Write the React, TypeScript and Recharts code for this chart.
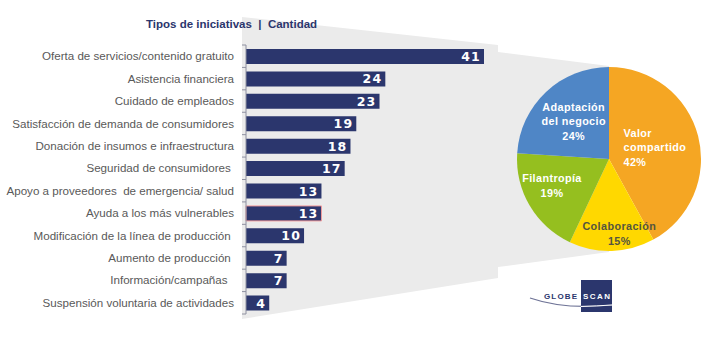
import React from "react";
import { BarChart, Bar, XAxis, YAxis, LabelList, Cell, PieChart, Pie } from "recharts";

// Tipos de iniciativas (bar chart)
const categories = [
  "Oferta de servicios/contenido gratuito",
  "Asistencia financiera",
  "Cuidado de empleados",
  "Satisfacción de demanda de consumidores",
  "Donación de insumos e infraestructura",
  "Seguridad de consumidores ",
  "Apoyo a proveedores  de emergencia/ salud",
  "Ayuda a los más vulnerables",
  "Modificación de la línea de producción ",
  "Aumento de producción ",
  "Información/campañas  ",
  "Suspensión voluntaria de actividades",
];
const counts = [41, 24, 23, 19, 18, 17, 13, 13, 10, 7, 7, 4];
const highlighted = "Ayuda a los más vulnerables";

// Pie: share by type (clockwise from 12 o'clock)
const pieNames = ["Valor\ncompartido", "Colaboración", "Filantropía", "Adaptación\ndel negocio"];
const pieShares = [42, 15, 19, 24];

const barData = categories.map((name, i) => ({ name, count: counts[i] }));
const pieData = pieNames.map((name, i) => ({ name, value: pieShares[i] }));

const W = 706;
const H = 351;
const AXIS_X = 246;
const PLOT_TOP = 45;
const PLOT_BOTTOM = 314;
const PLOT_RIGHT = 484;
const BAND = (PLOT_BOTTOM - PLOT_TOP) / categories.length;

const NAVY = "#2b366d";
const LABEL_GREY = "#595959";
const AXIS_GREY = "#8e90a0";
const pieColors = ["#f5a623", "#ffd800", "#95bf1f", "#4f86c6"];
const pieText = ["#ffffff", "#55553f", "#ffffff", "#ffffff"];
// label placement tweaks per slice
const pieLabelR = [0.5, 0.8, 0.72, 0.56];
const pieLabelAnchor = ["start", "middle", "middle", "middle"];
const pieLabelDx = [-30, 8, 0, 0];
const pieLabelDy = [0, 1, -7, 0];

// PieChart keeps a 5px default margin, so centre is given inside it
const PIE_CX = 604;
const PIE_CY = 154;
const PIE_R = 92;

function CategoryTick(props: any) {
  const { y, payload, index } = props;
  const last = index === categories.length - 1;
  return (
    <g>
      <line x1={AXIS_X - 4} x2={AXIS_X} y1={y - BAND / 2} y2={y - BAND / 2} stroke={AXIS_GREY} />
      {last && <line x1={AXIS_X - 4} x2={AXIS_X} y1={y + BAND / 2} y2={y + BAND / 2} stroke={AXIS_GREY} />}
      <text
        x={AXIS_X - 12}
        y={y}
        dy="0.35em"
        textAnchor="end"
        fill={LABEL_GREY}
        fontSize={11.6}
        fontFamily="'Liberation Sans', Arial, sans-serif"
        style={{ whiteSpace: "pre" }}
      >
        {payload.value}
      </text>
    </g>
  );
}

function ValueLabel(props: any) {
  const { x, y, width, height, value } = props;
  return (
    <text
      x={x + width - 3}
      y={y + height / 2}
      dy="0.36em"
      textAnchor="end"
      fill="#ffffff"
      fontSize={12.5}
      fontWeight="bold"
      letterSpacing={1.2}
      fontFamily="'DejaVu Sans', Verdana, sans-serif"
    >
      {value}
    </text>
  );
}

function PieLabel(props: any) {
  const { cx, cy, midAngle, outerRadius, index, value, name } = props;
  const RAD = Math.PI / 180;
  const r = outerRadius * pieLabelR[index];
  const x = cx + r * Math.cos(-midAngle * RAD) + pieLabelDx[index];
  const lines = [...String(name).split("\n"), `${value}%`];
  const lh = 14.5;
  const y0 = cy - r * Math.sin(midAngle * RAD) - ((lines.length - 1) * lh) / 2 + pieLabelDy[index];
  return (
    <text
      x={x}
      y={y0}
      textAnchor={pieLabelAnchor[index]}
      fill={pieText[index]}
      fontSize={10.8}
      fontWeight="bold"
      letterSpacing={0.4}
      fontFamily="'Liberation Sans', Arial, sans-serif"
    >
      {lines.map((l, i) => (
        <tspan key={i} x={x} dy={i === 0 ? "0.35em" : lh}>
          {l}
        </tspan>
      ))}
    </text>
  );
}

export default function App() {
  return (
    <div style={{ position: "absolute", left: 0, top: 0, width: W, height: H, background: "#fff", overflow: "hidden" }}>
      <svg width={W} height={H} style={{ position: "absolute", left: 0, top: 0 }}>
        <polygon
          points="242,17 498,45 498,52 609,66 609,252 498,267 498,278 242,319"
          fill="#ebebeb"
        />
      </svg>

      <div
        style={{
          position: "absolute",
          left: 146,
          top: 18,
          fontFamily: "'Liberation Sans', Arial, sans-serif",
          fontWeight: "bold",
          fontSize: 11.5,
          color: NAVY,
          whiteSpace: "pre",
        }}
      >
        Tipos de iniciativas  |  Cantidad
      </div>

      <div style={{ position: "absolute", left: 0, top: 0 }}>
        <BarChart
          width={W}
          height={H}
          data={barData}
          layout="vertical"
          margin={{ top: PLOT_TOP, bottom: H - PLOT_BOTTOM, left: 0, right: W - PLOT_RIGHT }}
        >
          <XAxis type="number" domain={[0, 41]} hide />
          <YAxis
            type="category"
            dataKey="name"
            width={AXIS_X}
            axisLine={{ stroke: AXIS_GREY }}
            tickLine={false}
            tick={<CategoryTick />}
            interval={0}
          />
          <Bar dataKey="count" barSize={15} fill={NAVY} isAnimationActive={false}>
            {barData.map((d) => (
              <Cell
                key={d.name}
                fill={NAVY}
                stroke={d.name === highlighted ? "#f29b9b" : "none"}
                strokeWidth={1}
              />
            ))}
            <LabelList dataKey="count" content={<ValueLabel />} />
          </Bar>
        </BarChart>
      </div>

      <div style={{ position: "absolute", left: 0, top: 0 }}>
        <PieChart width={W} height={H}>
          <Pie
            data={pieData}
            dataKey="value"
            nameKey="name"
            cx={PIE_CX}
            cy={PIE_CY}
            outerRadius={PIE_R}
            startAngle={90}
            endAngle={-270}
            stroke="none"
            labelLine={false}
            label={PieLabel}
            isAnimationActive={false}
          >
            {pieData.map((d, i) => (
              <Cell key={d.name} fill={pieColors[i]} />
            ))}
          </Pie>
        </PieChart>
      </div>

      <svg width={W} height={H} style={{ position: "absolute", left: 0, top: 0, pointerEvents: "none" }}>
        <rect x={581} y={280} width={31} height={32} fill={NAVY} />
        <path d="M530,298 Q565,310 612,305" fill="none" stroke="#6e7396" strokeWidth={1.2} />
        <path d="M581,306.5 Q597,306 612,305" fill="none" stroke="#ffffff" strokeWidth={1} />
        <text
          x={544}
          y={299}
          fill={NAVY}
          fontSize={8}
          fontWeight="bold"
          textLength={33}
          lengthAdjust="spacing"
          fontFamily="'Liberation Sans', Arial, sans-serif"
        >
          GLOBE
        </text>
        <text
          x={583}
          y={299}
          fill="#ffffff"
          fontSize={8}
          fontWeight="bold"
          textLength={27}
          lengthAdjust="spacing"
          fontFamily="'Liberation Sans', Arial, sans-serif"
        >
          SCAN
        </text>
      </svg>
    </div>
  );
}
